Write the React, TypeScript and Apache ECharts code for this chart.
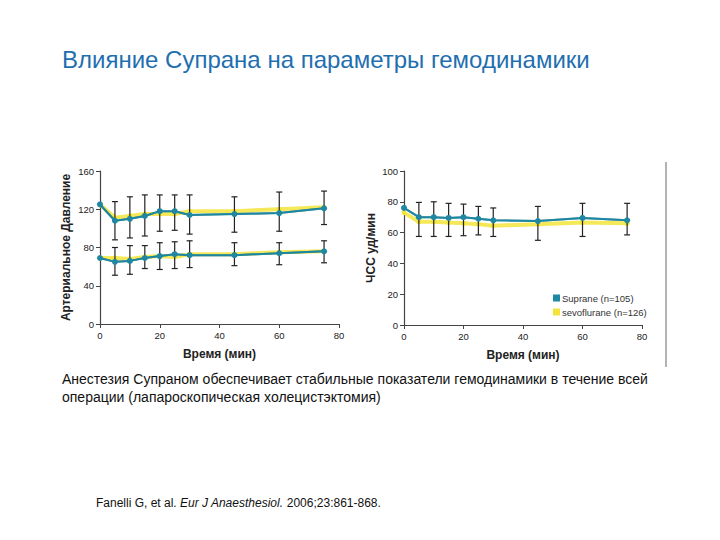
import React, { useEffect, useRef } from "react";
import * as echarts from "echarts";

const times = [0, 5, 10, 15, 20, 25, 30, 45, 60, 75];

const supraneSys = [125, 108, 110, 113, 118, 118, 114, 115, 116, 121];
const sevoSys = [125, 111, 113, 115, 115, 115, 118, 118, 120, 122];
const sysLow = [null, 88, 90, 92, 97, 98, 94, 96, 97, 104];
const sysHigh = [null, 128, 133, 135, 135, 135, 135, 133, 138, 139];

const supraneDia = [69, 65, 66, 69, 71, 73, 72, 72, 74, 76];
const sevoDia = [69, 69, 68, 70, 71, 70, 73, 73, 75, 76];
const diaLow = [null, 51, 52, 58, 57, 58, 59, 61, 62, 64];
const diaHigh = [null, 80, 82, 82, 85, 86, 87, 85, 85, 87];

const supraneHR = [76, 70, 70, 69.5, 70, 69, 68, 67.5, 69.5, 68];
const sevoHR = [73, 67, 67, 66.5, 66, 65.5, 64.5, 65.5, 66.5, 66];
const hrLow = [null, 57.5, 57.5, 57.5, 58, 58.5, 57.5, 55, 57.5, 58.5];
const hrHigh = [null, 79.6, 80, 79, 78.5, 77, 76, 77, 79, 79];

const xTicks = [0, 20, 40, 60, 80];
const bpTicks = [0, 40, 80, 120, 160];
const hrTicks = [0, 20, 40, 60, 80, 100];

const nameSuprane = "Suprane (n=105)";
const nameSevo = "sevoflurane (n=126)";
const titleText = "Влияние Супрана на параметры гемодинамики";
const bodyText =
  "Анестезия Супраном обеспечивает стабильные показатели гемодинамики в течение всей\nоперации (лапароскопическая холецистэктомия)";

const TEAL = "#1f87a2";
const YELLOW = "#f3e43c";
const FONT = "'Liberation Sans', Arial, sans-serif";

const pairs = (ys: number[]) => times.map((t, i) => [t, ys[i]]);
const bars = (lo: (number | null)[], hi: (number | null)[]) =>
  times
    .map((t, i) => (lo[i] == null ? null : [t, lo[i], hi[i]]))
    .filter((d) => d !== null);

const errorRender = (params: any, api: any) => {
  const x = api.value(0);
  const lo = api.coord([x, api.value(1)]);
  const hi = api.coord([x, api.value(2)]);
  const cap = 3;
  const style = { stroke: "#222", lineWidth: 1.2 };
  return {
    type: "group",
    children: [
      { type: "line", shape: { x1: lo[0], y1: lo[1], x2: hi[0], y2: hi[1] }, style },
      { type: "line", shape: { x1: lo[0] - cap, y1: lo[1], x2: lo[0] + cap, y2: lo[1] }, style },
      { type: "line", shape: { x1: hi[0] - cap, y1: hi[1], x2: hi[0] + cap, y2: hi[1] }, style },
    ],
  };
};

const axisCommon = {
  axisLine: { show: true, lineStyle: { color: "#444", width: 1.2 } },
  axisTick: { show: true, length: 4, lineStyle: { color: "#444" } },
  splitLine: { show: false },
  axisLabel: { color: "#222", fontSize: 9.5, fontFamily: FONT, margin: 6 },
};

const nameStyle = { fontSize: 12, fontWeight: "bold", color: "#222", fontFamily: FONT };

export default function App() {
  const ref = useRef<HTMLDivElement>(null);
  useEffect(() => {
    if (!ref.current) return;
    const chart = echarts.init(ref.current, null, { renderer: "svg" });

    const lineSeries = (name: string, data: number[], xi: number, yellow: boolean) => ({
      type: "line",
      name,
      xAxisIndex: xi,
      yAxisIndex: xi,
      data: pairs(data),
      symbol: "circle",
      symbolSize: yellow ? 5 : 6,
      z: yellow ? 2 : 4,
      itemStyle: { color: yellow ? YELLOW : TEAL },
      lineStyle: yellow
        ? { color: YELLOW, width: 4, opacity: 0.85 }
        : { color: TEAL, width: 2, shadowColor: "rgba(20,90,70,0.6)", shadowBlur: 1 },
    });

    const errSeries = (lo: any, hi: any, xi: number) => ({
      type: "custom",
      xAxisIndex: xi,
      yAxisIndex: xi,
      data: bars(lo, hi),
      renderItem: errorRender,
      z: 3,
      silent: true,
    });

    chart.setOption({
      animation: false,
      backgroundColor: "#ffffff",
      textStyle: { fontFamily: FONT },
      grid: [
        { left: 100, top: 171, width: 239, height: 153 },
        { left: 404, top: 171, width: 238, height: 154 },
      ],
      legend: {
        orient: "vertical",
        left: 548,
        top: 288,
        icon: "rect",
        itemWidth: 7,
        itemHeight: 7,
        itemGap: 4,
        textStyle: { fontSize: 9.5, color: "#333", fontFamily: FONT, padding: [0, 0, 0, -3] },
        data: [
          { name: nameSuprane, itemStyle: { color: TEAL } },
          { name: nameSevo, itemStyle: { color: YELLOW } },
        ],
      },
      xAxis: [0, 1].map((i) => ({
        ...axisCommon,
        type: "value",
        gridIndex: i,
        min: xTicks[0],
        max: xTicks[xTicks.length - 1],
        interval: 20,
        name: "Время (мин)",
        nameLocation: "middle",
        nameGap: 24,
        nameTextStyle: nameStyle,
      })),
      yAxis: [
        {
          ...axisCommon,
          type: "value",
          gridIndex: 0,
          min: bpTicks[0],
          max: bpTicks[bpTicks.length - 1],
          interval: 40,
          name: "Артериальное Давление",
          nameLocation: "middle",
          nameGap: 28,
          nameTextStyle: nameStyle,
        },
        {
          ...axisCommon,
          type: "value",
          gridIndex: 1,
          min: hrTicks[0],
          max: hrTicks[hrTicks.length - 1],
          interval: 20,
          name: "ЧСС уд/мин",
          nameLocation: "middle",
          nameGap: 27,
          nameTextStyle: nameStyle,
        },
      ],
      series: [
        lineSeries(nameSevo, sevoSys, 0, true),
        lineSeries(nameSevo, sevoDia, 0, true),
        errSeries(sysLow, sysHigh, 0),
        errSeries(diaLow, diaHigh, 0),
        lineSeries(nameSuprane, supraneSys, 0, false),
        lineSeries(nameSuprane, supraneDia, 0, false),
        lineSeries(nameSevo, sevoHR, 1, true),
        errSeries(hrLow, hrHigh, 1),
        lineSeries(nameSuprane, supraneHR, 1, false),
      ],
      graphic: [
        {
          type: "text",
          left: 62,
          top: 47,
          style: { text: titleText, fontSize: 24, fill: "#1f6fb0", fontFamily: FONT },
        },
        {
          type: "text",
          left: 62,
          top: 370,
          style: { text: bodyText, fontSize: 14, lineHeight: 18, fill: "#111", fontFamily: FONT },
        },
        {
          type: "text",
          left: 96,
          top: 497,
          style: {
            text: "{n|Fanelli G, et al. }{i|Eur J Anaesthesiol.}{n| 2006;23:861-868.}",
            rich: {
              n: { fontSize: 12, fill: "#111", fontFamily: FONT },
              i: { fontSize: 12, fill: "#111", fontStyle: "italic", fontFamily: FONT },
            },
          },
        },
        {
          type: "line",
          shape: { x1: 666, y1: 162, x2: 666, y2: 367 },
          style: { stroke: "#9a9a9a", lineWidth: 1.5 },
        },
      ],
    });
    return () => chart.dispose();
  }, []);
  return (
    <div
      ref={ref}
      style={{ position: "absolute", left: 0, top: 0, width: 720, height: 540 }}
    />
  );
}
